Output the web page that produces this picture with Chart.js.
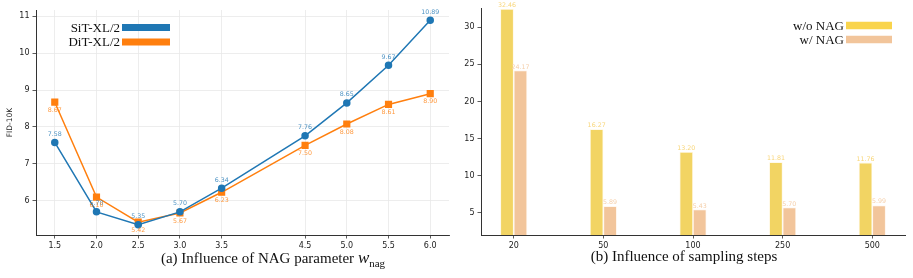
<!DOCTYPE html>
<html>
<head>
<meta charset="utf-8">
<script src="https://cdn.jsdelivr.net/npm/chart.js@4"></script>
<style>
  body { margin: 0; background: #fff; }
  #wrap { position: relative; width: 913px; height: 278px; overflow: hidden; }
  .box { position: absolute; top: 0; height: 278px; }
  #left { left: 0; width: 460px; }
  #right { left: 460px; width: 453px; }
  .cap {
    position: absolute; top: 248px; font-family: "Liberation Serif", serif;
    font-size: 15px; color: #111; white-space: nowrap; transform: translateX(-50%);
  }
  .cap sub { font-size: 11px; }
</style>
</head>
<body>
<div id="wrap">
  <div class="box" id="left"><canvas id="lineChart"></canvas></div>
  <div class="box" id="right"><canvas id="barChart"></canvas></div>
  <div class="cap" style="left:273px">(a) Influence of NAG parameter <i style="font-size:17px">w</i><sub>nag</sub></div>
  <div class="cap" style="left:684px">(b) Influence of sampling steps</div>
</div>
<script>
// data
const wValues = [1.5, 2.0, 2.5, 3.0, 3.5, 4.5, 5.0, 5.5, 6.0];
const sitFid = [7.58, 5.70, 5.35, 5.70, 6.34, 7.76, 8.65, 9.67, 10.89];
const ditFid = [8.67, 6.10, 5.42, 5.67, 6.23, 7.50, 8.08, 8.61, 8.90];
const fidTicks = [6, 7, 8, 9, 10, 11];

const stepLabels = ["20", "50", "100", "250", "500"];
const woNag = [32.46, 16.27, 13.20, 11.81, 11.76];
const wNag = [24.17, 5.89, 5.43, 5.70, 5.99];
const barTicks = [5, 10, 15, 20, 25, 30];

const tickFont = { family: "DejaVu Sans", size: 8 };
const spine = "#333";

// value labels next to each point / bar
const valueLabels = {
  id: "valueLabels",
  afterDatasetsDraw(chart) {
    const ctx = chart.ctx;
    ctx.save();
    ctx.font = "6.3px DejaVu Sans";
    ctx.textAlign = "center";
    chart.data.datasets.forEach((ds, i) => {
      const meta = chart.getDatasetMeta(i);
      ctx.fillStyle = ds.labelColor;
      ctx.textBaseline = ds.labelOffset < 0 ? "bottom" : "top";
      meta.data.forEach((el, j) => {
        const v = ds.data[j].y;
        ctx.fillText(v.toFixed(2), el.x, el.y + ds.labelOffset);
      });
    });
    ctx.restore();
  },
};

// legend with the text on the left of a colour strip
const stripLegend = {
  id: "stripLegend",
  afterDraw(chart, args, opts) {
    const ctx = chart.ctx;
    ctx.save();
    ctx.font = "13px Liberation Serif";
    ctx.textAlign = "right";
    ctx.textBaseline = "middle";
    chart.data.datasets.forEach((ds, i) => {
      const y = opts.y + i * opts.rowH;
      ctx.fillStyle = "#111";
      ctx.fillText(ds.label, opts.x - 2, y + 1);
      ctx.fillStyle = ds.legendColor;
      ctx.fillRect(opts.x, y - opts.h / 2, opts.w, opts.h);
    });
    ctx.restore();
  },
};

new Chart(document.getElementById("lineChart"), {
  type: "line",
  data: {
    datasets: [
      {
        label: "SiT-XL/2",
        data: wValues.map((x, i) => ({ x, y: sitFid[i] })),
        borderColor: "#1f77b4",
        backgroundColor: "#1f77b4",
        legendColor: "#1f77b4",
        borderWidth: 1.5,
        pointStyle: "circle",
        pointRadius: 3,
        labelColor: "rgba(31,119,180,0.8)",
        labelOffset: -5,
      },
      {
        label: "DiT-XL/2",
        data: wValues.map((x, i) => ({ x, y: ditFid[i] })),
        borderColor: "#ff7f0e",
        backgroundColor: "#ff7f0e",
        legendColor: "#ff7f0e",
        borderWidth: 1.5,
        pointStyle: "rect",
        pointRadius: 4,
        labelColor: "rgba(255,127,14,0.8)",
        labelOffset: 5,
      },
    ],
  },
  options: {
    responsive: true,
    maintainAspectRatio: false,
    animation: false,
    layout: { padding: { top: 10, right: 11, left: 0, bottom: 0 } },
    plugins: {
      legend: { display: false },
      tooltip: { enabled: false },
      stripLegend: { x: 122, y: 27.5, rowH: 14.5, w: 48, h: 7 },
    },
    scales: {
      x: {
        type: "linear",
        min: 1.275,
        max: 6.225,
        afterBuildTicks: (s) => { s.ticks = wValues.map((v) => ({ value: v })); },
        afterFit: (s) => { s.height = 43; },
        ticks: { font: tickFont, color: "#222", padding: 3, maxRotation: 0,
          callback: (v) => v.toFixed(1) },
        grid: { color: "#e8e8e8", lineWidth: 0.8, tickLength: 3.5, tickColor: spine, tickWidth: 0.8 },
        border: { color: spine, width: 1 },
      },
      y: {
        min: 5.073,
        max: 11.167,
        afterBuildTicks: (s) => { s.ticks = fidTicks.map((v) => ({ value: v })); },
        afterFit: (s) => { s.width = 36; },
        ticks: { font: tickFont, color: "#222", padding: 3 },
        grid: { color: "#e8e8e8", lineWidth: 0.8, tickLength: 3.5, tickColor: spine, tickWidth: 0.8 },
        border: { color: spine, width: 1 },
        title: { display: true, text: "FID-10K", font: { family: "DejaVu Sans", size: 7.5 },
          color: "#222", padding: { top: 6, bottom: 0 } },
      },
    },
  },
  plugins: [valueLabels, stripLegend],
});

new Chart(document.getElementById("barChart"), {
  type: "bar",
  data: {
    datasets: [
      {
        label: "w/o NAG",
        data: woNag.map((y, i) => ({ x: i, y })),
        backgroundColor: "#f2d463",
        borderColor: "rgba(255,245,215,0.9)",
        borderWidth: 0.8,
        legendColor: "#f9d44c",
        labelColor: "#f8d67a",
        labelOffset: -0.5,
      },
      {
        label: "w/ NAG",
        data: wNag.map((y, i) => ({ x: i, y })),
        backgroundColor: "#f2c59b",
        borderColor: "rgba(255,240,225,0.9)",
        borderWidth: 0.8,
        legendColor: "#f2c59b",
        labelColor: "#f5cfaa",
        labelOffset: -0.5,
      },
    ],
  },
  options: {
    responsive: true,
    maintainAspectRatio: false,
    animation: false,
    categoryPercentage: 0.3,
    barPercentage: 1.0,
    layout: { padding: { top: 8, right: 8, left: 0, bottom: 0 } },
    plugins: {
      legend: { display: false },
      tooltip: { enabled: false },
      stripLegend: { x: 386, y: 25.5, rowH: 14, w: 46, h: 7.5 },
    },
    scales: {
      x: {
        type: "linear",
        offset: false,
        min: -0.365,
        max: 4.365,
        afterBuildTicks: (s) => { s.ticks = stepLabels.map((t, i) => ({ value: i })); },
        afterFit: (s) => { s.height = 43; },
        ticks: { font: tickFont, color: "#222", padding: 3, maxRotation: 0,
          callback: (v) => stepLabels[v] },
        grid: { offset: false, drawOnChartArea: false, tickLength: 3.5, tickColor: spine, tickWidth: 0.8 },
        border: { color: spine, width: 1 },
      },
      y: {
        min: 2,
        max: 32.6,
        afterBuildTicks: (s) => { s.ticks = barTicks.map((v) => ({ value: v })); },
        afterFit: (s) => { s.width = 21; },
        ticks: { font: tickFont, color: "#222", padding: 3 },
        grid: { drawOnChartArea: false, tickLength: 3.5, tickColor: spine, tickWidth: 0.8 },
        border: { color: spine, width: 1 },
      },
    },
  },
  plugins: [valueLabels, stripLegend],
});
</script>
</body>
</html>
